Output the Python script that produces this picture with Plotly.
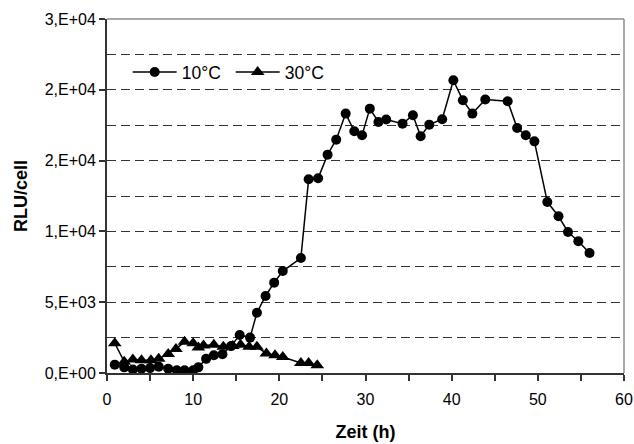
import plotly.graph_objects as go

# Luminescence per cell over time at two temperatures
hours_10c = [0.9, 2.0, 3.0, 4.0, 5.0, 6.0, 7.1, 8.1, 9.0, 10.0, 10.6, 11.5, 12.4, 13.4,
             14.4, 15.4, 16.6, 17.4, 18.4, 19.4, 20.4, 22.5, 23.4, 24.5, 25.6, 26.6,
             27.7, 28.7, 29.6, 30.5, 31.5, 32.4, 34.3, 35.5, 36.4, 37.4, 38.9, 40.2,
             41.3, 42.4, 43.9, 46.5, 47.6, 48.6, 49.6, 51.1, 52.4, 53.5, 54.7, 56.0]
rlu_10c = [590, 400, 250, 300, 350, 450, 300, 200, 200, 200, 400, 1000, 1250, 1320,
           1900, 2680, 2500, 4260, 5440, 6380, 7200, 8120, 13680, 13750, 15420, 16480,
           18320, 17070, 16790, 18670, 17730, 17900, 17610, 18200, 16720, 17540, 17920, 20670,
           19260, 18320, 19310, 19190, 17300, 16790, 16360, 12080, 11070, 9960, 9300, 8470]

hours_30c = [0.9, 2.0, 3.0, 4.0, 5.1, 6.0, 7.1, 8.0, 9.0, 10.0, 10.6, 11.2, 12.4, 13.5,
             14.6, 15.5, 16.5, 17.4, 18.5, 19.5, 20.4, 22.5, 23.4, 24.4]
rlu_30c = [2100, 800, 950, 900, 900, 1000, 1350, 1700, 2200, 2100, 1800, 1950, 2000, 1850,
           1900, 2000, 1850, 1850, 1380, 1250, 1130, 710, 710, 540]

y_tickvals = [0, 5000, 10000, 15000, 20000, 25000]
y_ticktext = ["0,E+00", "5,E+03", "1,E+04", "2,E+04", "2,E+04", "3,E+04"]
x_tickvals = [0, 10, 20, 30, 40, 50, 60]

FONT = "Liberation Sans, Arial, sans-serif"
GRID_DASH = "9px,5px"

fig = go.Figure()
fig.add_trace(go.Scatter(
    x=hours_10c, y=rlu_10c, name="10°C", mode="lines+markers",
    line=dict(color="black", width=1.5),
    marker=dict(symbol="circle", size=10, color="black"),
))
fig.add_trace(go.Scatter(
    x=hours_30c, y=rlu_30c, name="30°C", mode="lines+markers",
    line=dict(color="black", width=1.5),
    marker=dict(symbol="triangle-up", size=12, color="black"),
))

# gray frame on the top and right of the plot area
fig.add_shape(type="line", xref="paper", yref="paper", x0=0, x1=1, y0=1, y1=1,
              line=dict(color="#8c8c8c", width=1.5), layer="below")
fig.add_shape(type="line", xref="paper", yref="paper", x0=1, x1=1, y0=0, y1=1,
              line=dict(color="#8c8c8c", width=1.5), layer="below")

fig.update_layout(
    width=634, height=444,
    margin=dict(l=107, r=10, t=19, b=71),
    paper_bgcolor="white", plot_bgcolor="white",
    font=dict(family=FONT, size=16, color="black"),
    showlegend=True,
    legend=dict(
        orientation="h", x=0.04, y=0.85, xanchor="left", yanchor="middle",
        bgcolor="rgba(0,0,0,0)", font=dict(size=17.5, family=FONT),
        itemwidth=44, entrywidth=44, entrywidthmode="pixels",
    ),
    xaxis=dict(
        range=[0, 60], tickvals=x_tickvals, ticks="outside", ticklen=6,
        tickwidth=1.5, tickcolor="#333", ticklabelstandoff=5, automargin=False,
        minor=dict(dtick=5, tick0=0, ticks="outside", ticklen=6, tickwidth=1.5, tickcolor="#333"),
        showline=True, linecolor="#333", linewidth=2, showgrid=False, zeroline=False,
        title=dict(text="<b>Zeit (h)</b>", font=dict(size=18, family=FONT), standoff=18),
        tickfont=dict(size=16, family=FONT),
    ),
    yaxis=dict(
        range=[0, 25000], tickvals=y_tickvals, ticktext=y_ticktext, automargin=False,
        ticks="outside", ticklen=6, tickwidth=1.5, tickcolor="#333",
        showline=True, linecolor="#333", linewidth=2, zeroline=False,
        showgrid=True, gridcolor="#333", gridwidth=1, griddash=GRID_DASH,
        minor=dict(dtick=2500, tick0=0, showgrid=True, gridcolor="#333", gridwidth=1,
                   griddash=GRID_DASH, ticks=""),
        title=dict(text="<b>RLU/cell</b>", font=dict(size=18, family=FONT), standoff=12),
        tickfont=dict(size=16, family=FONT),
    ),
)

fig.write_html("out.html")
